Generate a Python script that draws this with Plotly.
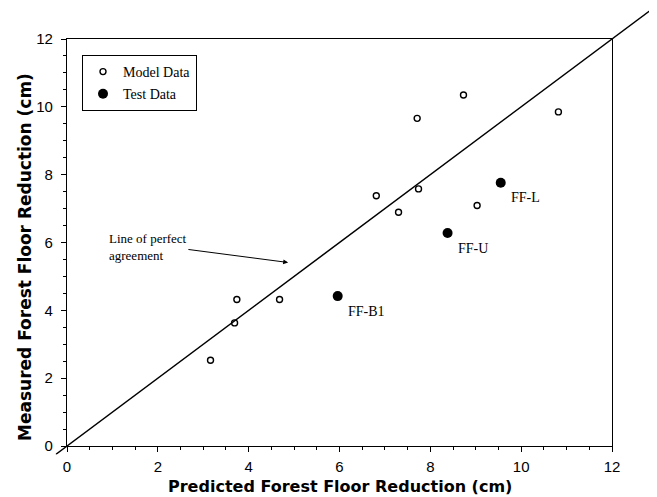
import plotly.graph_objects as go

# ---- data ----
model_x = [8.73, 7.71, 10.82, 6.81, 7.74, 7.30, 9.03, 3.74, 4.68, 3.69, 3.16]
model_y = [10.35, 9.66, 9.85, 7.38, 7.58, 6.89, 7.09, 4.32, 4.32, 3.63, 2.53]
test_x = [9.55, 8.38, 5.96]
test_y = [7.76, 6.28, 4.42]
test_labels = ["FF-L", "FF-U", "FF-B1"]
line_x = [-0.25, 12.85]
line_y = [-0.25, 12.85]
tick_vals = [0, 2, 4, 6, 8, 10, 12]
axis_range = [0, 12]
note_text = "Line of perfect<br>agreement"
note_x = 0.88
note_y = 5.88
arrow_tail = (2.64, 5.80)
arrow_head = (4.87, 5.41)
x_title = "Predicted Forest Floor Reduction (cm)"
y_title = "Measured Forest Floor Reduction (cm)"

# page body has an 8px margin; the figure is sized to the visible area
OFF = 8
W, H = 657 - OFF, 497 - OFF


def px(x):
    return (x - OFF) / W


def py(y):
    return (H - (y - OFF)) / H


# main plot domain (paper fractions)
dx = [px(67), px(612)]
dy = [py(446), py(39)]
ux = (dx[1] - dx[0]) / (axis_range[1] - axis_range[0])
uy = (dy[1] - dy[0]) / (axis_range[1] - axis_range[0])
dx2 = [dx[0] + (line_x[0] - axis_range[0]) * ux, dx[0] + (line_x[1] - axis_range[0]) * ux]
dy2 = [dy[0] + (line_y[0] - axis_range[0]) * uy, dy[0] + (line_y[1] - axis_range[0]) * uy]

SANS = "Liberation Sans"
TITLE_FONT = "DejaVu Sans"
SERIF = "Liberation Serif"

fig = go.Figure()
fig.add_trace(go.Scatter(
    x=model_x, y=model_y, mode="markers", name="Model Data",
    legendgroup="a",
    marker=dict(symbol="circle-open", size=6, color="black", line=dict(width=1.4, color="black")),
))
fig.add_trace(go.Scatter(
    x=test_x, y=test_y, mode="markers", name="Test Data",
    legendgroup="b",
    marker=dict(symbol="circle", size=10, color="black"),
))
fig.add_trace(go.Scatter(
    x=line_x, y=line_y, mode="lines", xaxis="x2", yaxis="y2",
    line=dict(color="black", width=1.5), showlegend=False, hoverinfo="skip",
))

annotations = []
for tx, ty, tl in zip(test_x, test_y, test_labels):
    annotations.append(dict(x=tx, y=ty, text=tl, showarrow=False, xanchor="left", yanchor="middle",
                            xshift=8, yshift=-15, font=dict(family=SERIF, size=14, color="black")))
annotations.append(dict(x=note_x, y=note_y, text=note_text, showarrow=False, xanchor="left",
                        yanchor="middle", align="left",
                        font=dict(family=SERIF, size=13, color="black")))
annotations.append(dict(x=arrow_head[0], y=arrow_head[1], ax=arrow_tail[0], ay=arrow_tail[1],
                        axref="x", ayref="y", text="", showarrow=True, arrowhead=2, arrowsize=1,
                        arrowwidth=1, arrowcolor="black"))
annotations.append(dict(xref="paper", yref="paper", x=px(340), y=py(486), text=x_title,
                        showarrow=False, xanchor="center", yanchor="middle",
                        font=dict(family=TITLE_FONT, size=16, color="black", weight="bold")))
annotations.append(dict(xref="paper", yref="paper", x=px(25), y=py(257), text=y_title,
                        showarrow=False, xanchor="center", yanchor="middle", textangle=-90,
                        font=dict(family=TITLE_FONT, size=17, color="black", weight="bold")))

axis_common = dict(
    range=axis_range, tickvals=tick_vals, ticks="outside", ticklen=5, tickwidth=1,
    tickcolor="black", showline=True, linecolor="black", linewidth=1.2, mirror=True,
    showgrid=False, zeroline=False, automargin=False,
    tickfont=dict(family=SANS, size=15, color="black"),
    minor=dict(dtick=0.5, ticks="outside", ticklen=3, tickcolor="black"),
)

fig.update_layout(
    width=W, height=H, template="none",
    margin=dict(l=0, r=0, t=0, b=0),
    paper_bgcolor="white", plot_bgcolor="rgba(0,0,0,0)",
    xaxis=dict(domain=dx, anchor="y", ticklabelstandoff=2, **axis_common),
    yaxis=dict(domain=dy, anchor="x", ticklabelstandoff=5, **axis_common),
    xaxis2=dict(domain=dx2, range=line_x, anchor="y2", visible=False, fixedrange=True),
    yaxis2=dict(domain=dy2, range=line_y, anchor="x2", visible=False, fixedrange=True),
    showlegend=True,
    legend=dict(x=px(82), y=py(55), xanchor="left", yanchor="top",
                bordercolor="black", borderwidth=1, bgcolor="white",
                font=dict(family=SERIF, size=14, color="black"),
                traceorder="grouped", tracegroupgap=1, itemwidth=30),
    annotations=annotations,
)

fig.write_html("out.html")
